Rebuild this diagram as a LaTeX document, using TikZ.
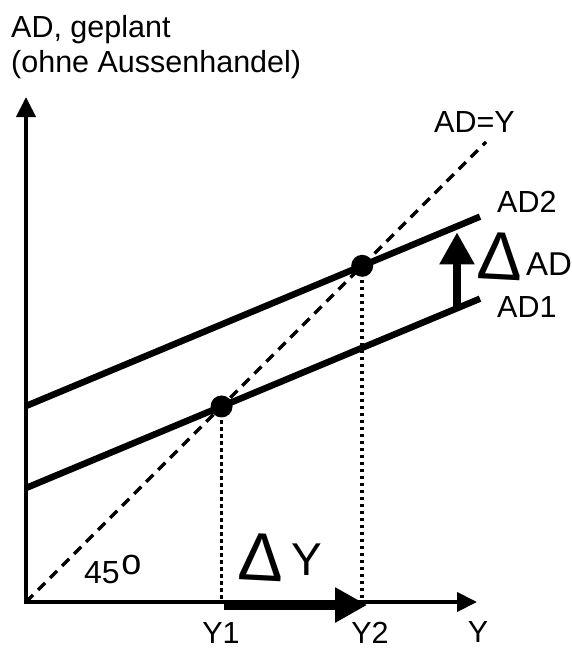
\documentclass[tikz,border=0pt]{standalone}
\usepackage{fontspec}
\setmainfont{Liberation Sans}
\usetikzlibrary{calc, arrows.meta}

\begin{document}
\begin{tikzpicture}[x=1pt, y=-1pt,
    achse/.style={line width=4pt, -{Triangle[length=20pt, width=19pt]}},
    kurve/.style={line width=6.5pt},
    strich/.style={line width=3.5pt, dash pattern=on 10pt off 7pt},
    punktiert/.style={line width=3.5pt, dash pattern=on 3.5pt off 3.5pt},
    pfeil/.style={-{Triangle[length=32pt, width=33pt]}},
    beschr/.style={inner sep=0pt, font=\fontsize{30.5}{36}\selectfont},
    gross/.style={inner sep=0pt, font=\fontsize{68}{72}\selectfont}]
    \useasboundingbox (0,0) rectangle (572,648);

    % --- 1. 定義原點與兩軸端點 ---
    \coordinate (O) at (26,602);
    \coordinate (Xend) at (477,602);
    \coordinate (Yend) at (26,97);
    \def\m{0.417}

    % --- 2. 定義 AD1, AD2 與 45 度線 ---
    \coordinate (P1) at (26,488);
    \coordinate (Q1) at (480,{488-\m*454});
    \coordinate (P2) at (26,406);
    \coordinate (Q2) at (480,{406-\m*454});
    \coordinate (G) at (486,142);

    % --- 3. 求交點 E1, E2 ---
    \coordinate (E1) at (intersection of O--G and P1--Q1);
    \coordinate (E2) at (intersection of O--G and P2--Q2);
    \coordinate (Y1) at (E1 |- O);
    \coordinate (Y2) at (E2 |- O);

    % --- 4. 繪製兩軸 ---
    \draw[achse] ($(O)+(0,2)$) -- (Yend);
    \draw[achse] ($(O)+(-2,0)$) -- (Xend);

    % --- 5. 繪製直線與交點 ---
    \draw[strich] (O) -- (G);
    \draw[kurve] (P1) -- (Q1);
    \draw[kurve] (P2) -- (Q2);
    \draw[punktiert] (E1) -- (Y1);
    \draw[punktiert] (E2) -- (Y2);
    \fill (E1) circle (11pt);
    \fill (E2) circle (11pt);

    % --- 6. 兩個變化箭頭 ---
    \coordinate (D1) at ($(P1)!0.9493!(Q1)$);
    \coordinate (D2) at ($(P2)!0.9493!(Q2)+(0,6)$);
    \draw[pfeil, line width=8pt] (D1) -- (D2);
    \draw[pfeil, line width=9pt] ($(Y1)+(2,3)$) -- ($(Y2)+(5,3)$);

    % --- 7. 標籤 ---
    \node[beschr, anchor=base west] (titel1) at (11,37) {AD, geplant};
    \node[beschr, anchor=base west] (titel2) at (11,72) {(ohne Aussenhandel)};
    \node[beschr, anchor=base west] (lblADY) at (434,132) {AD=Y};
    \node[beschr, anchor=base west] (lblAD2) at (497,212) {AD2};
    \node[beschr, anchor=base west] (lblAD1) at (497,317) {AD1};
    \node[gross, rotate=-3] (deltaAD) at (500,256) {Δ};
    \node[beschr, anchor=base west, font=\fontsize{33}{36}\selectfont] (lblAD) at (526,275) {AD};
    \node[gross, rotate=-3] (deltaY) at (261,557) {Δ};
    \node[beschr, anchor=base west, font=\fontsize{46}{50}\selectfont] (lblDY) at (291,575) {Y};
    \node[beschr, anchor=base west, font=\fontsize{32}{36}\selectfont] (lbl45) at (84,583) {45\hspace{1.5pt}\raisebox{9pt}{\fontsize{36}{36}\selectfont o}};
    \node[beschr, anchor=base] (lblY1) at (221,643) {Y1};
    \node[beschr, anchor=base] (lblY2) at (370,643) {Y2};
    \node[beschr, anchor=base] (lblYachse) at (478,642) {Y};
\end{tikzpicture}
\end{document}
